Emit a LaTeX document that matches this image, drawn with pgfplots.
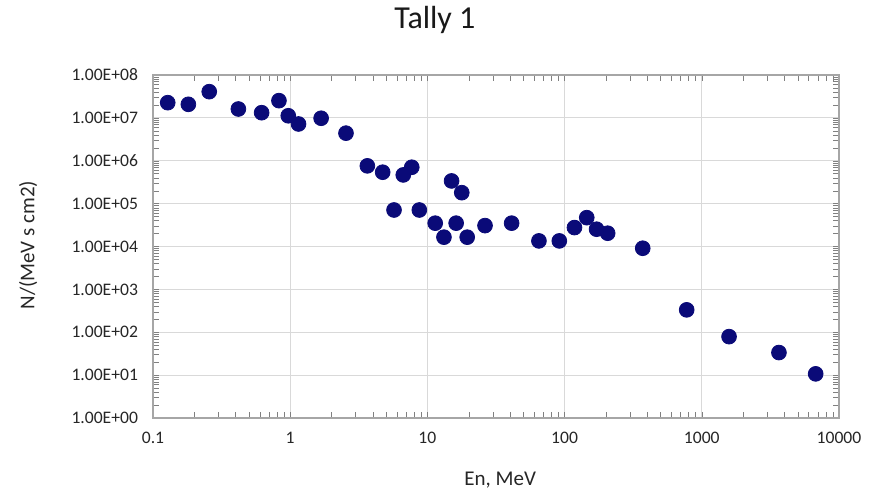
\documentclass[border=0pt]{standalone}
\usepackage{fontspec}
\setmainfont{Carlito}
\usepackage{pgfplots}
\pgfplotsset{compat=1.18}
\definecolor{dotcol}{HTML}{0A0A78}
\definecolor{gridcol}{HTML}{D9D9D9}
\definecolor{axcol}{HTML}{A6A6A6}
\begin{document}
\begin{tikzpicture}
\useasboundingbox (0,0) rectangle (435.5pt,250.5pt);
\begin{axis}[
  at={(76.5pt,41.5pt)}, anchor=south west,
  scale only axis, width=343pt, height=171.5pt,
  xmode=log, ymode=log,
  xmin=0.1, xmax=10000, ymin=1, ymax=1e8,
  xtick={0.1,1,10,100,1000,10000},
  xticklabels={0.1,1,10,100,1000,10000},
  ytick={1,10,100,1000,10000,100000,1000000,10000000,100000000},
  yticklabels={1.00E+00,1.00E+01,1.00E+02,1.00E+03,1.00E+04,1.00E+05,1.00E+06,1.00E+07,1.00E+08},
  minor tick num=0, minor xtick={}, minor ytick={},
  major tick length=0pt,
  grid=major,
  major grid style={gridcol, line width=0.6pt},
  axis line style={axcol, line width=0.6pt},
  ticklabel style={font=\fontsize{8.8}{10}\selectfont, text=black!85},
  yticklabel style={xshift=-4pt},
  xticklabel style={yshift=-3.5pt},
  xlabel={En, MeV},
  ylabel={N/(MeV s cm2)},
  label style={font=\fontsize{10.5}{12}\selectfont, text=black!85},
  xlabel style={at={(axis description cs:0.506,-0.18)}, anchor=center},
  ylabel style={at={(axis description cs:-0.182,0.504)}, anchor=center, rotate=0},
  title={Tally 1},
  title style={at={(axis description cs:0.411,1.125)}, anchor=center, font=\fontsize{16}{18}\selectfont, text=black!90},
]
\addplot[only marks, mark=*, mark size=3.7pt, mark options={fill=dotcol, draw=dotcol}] coordinates {
(0.128,2.26e7)
(0.181,2.07e7)
(0.257,4.08e7)
(0.419,1.61e7)
(0.619,1.32e7)
(0.828,2.52e7)
(0.968,1.12e7)
(1.15,7.2e6)
(1.68,9.8e6)
(2.55,4.4e6)
(3.65,7.6e5)
(4.72,5.4e5)
(6.67,4.67e5)
(7.69,7.05e5)
(5.71,7.1e4)
(8.73,7.1e4)
(11.4,3.5e4)
(13.2,1.65e4)
(15.0,3.38e5)
(17.8,1.8e5)
(16.2,3.5e4)
(19.5,1.65e4)
(26.3,3.07e4)
(41.1,3.5e4)
(65,1.35e4)
(91.5,1.35e4)
(118,2.76e4)
(145,4.7e4)
(171,2.53e4)
(206,2.04e4)
(371,9.1e3)
(776,333)
(1580,79)
(3650,33.6)
(6760,10.7)
};
\end{axis}
\end{tikzpicture}
\end{document}
